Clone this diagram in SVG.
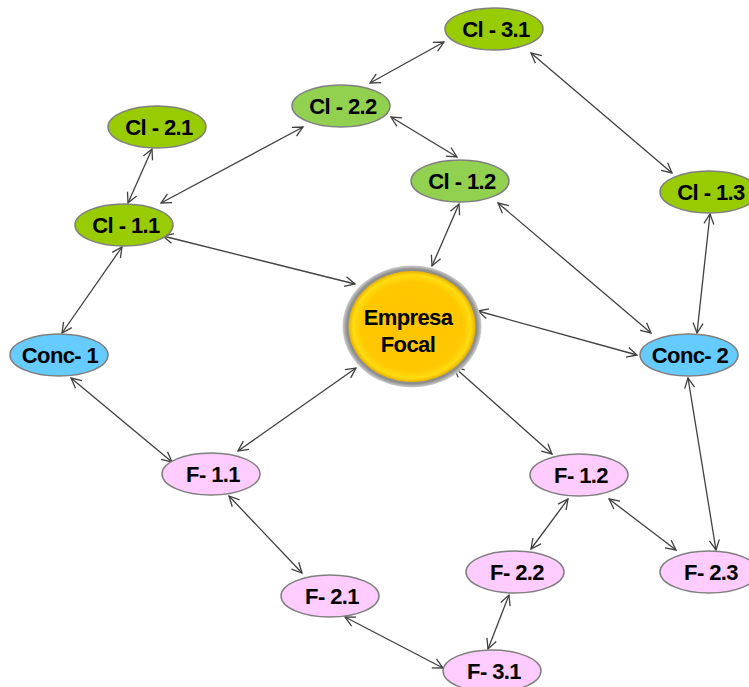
<svg xmlns="http://www.w3.org/2000/svg" width="749" height="687" viewBox="0 0 749 687">
  <defs>
    <marker id="arr" viewBox="0 0 12 12" refX="11" refY="6" markerWidth="12" markerHeight="12" markerUnits="userSpaceOnUse" orient="auto-start-reverse">
      <path d="M1,1 L11,6 L1,11" fill="none" stroke="#404040" stroke-width="1.3"/>
    </marker>
    <radialGradient id="focalFill" cx="50%" cy="50%" r="50%">
      <stop offset="0" stop-color="#ffc400"/>
      <stop offset="0.8" stop-color="#ffc800"/>
      <stop offset="0.93" stop-color="#ffdc10"/>
      <stop offset="1" stop-color="#e8b000"/>
    </radialGradient>
    <radialGradient id="focalRing" cx="50%" cy="50%" r="50%">
      <stop offset="0.86" stop-color="#8a8a8a"/>
      <stop offset="0.94" stop-color="#8f8f8f"/>
      <stop offset="1" stop-color="#cfcfcf"/>
    </radialGradient>
  </defs>
  <style>
    .edge { stroke: #404040; stroke-width: 1.3; fill: none; marker-start: url(#arr); marker-end: url(#arr); }
    .node ellipse { stroke: #7f7f7f; stroke-width: 1.5; }
    .cl { fill: #99cc00; }
    .cl2 { fill: #92d050; }
    .conc { fill: #66ccff; }
    .f { fill: #ffccff; }
    text { font-family: "Liberation Sans", Arial, sans-serif; font-weight: bold; font-size: 22px; letter-spacing: -0.6px; text-anchor: middle; fill: #000; }
  </style>
  <rect width="749" height="687" fill="#fff"/>

  <g id="connectors">
    <line class="edge" x1="444" y1="42" x2="370" y2="83"/>
    <line class="edge" x1="531" y1="53" x2="672" y2="173"/>
    <line class="edge" x1="391" y1="117" x2="457" y2="157"/>
    <line class="edge" x1="303" y1="127" x2="161" y2="203"/>
    <line class="edge" x1="152" y1="149" x2="128" y2="203"/>
    <line class="edge" x1="163" y1="236" x2="355" y2="284"/>
    <line class="edge" x1="122" y1="247" x2="62" y2="333"/>
    <line class="edge" x1="459" y1="204" x2="432" y2="266"/>
    <line class="edge" x1="498" y1="203" x2="651" y2="333"/>
    <line class="edge" x1="710" y1="214" x2="697" y2="333"/>
    <line class="edge" x1="478" y1="311" x2="637" y2="355"/>
    <line class="edge" x1="71" y1="378" x2="172" y2="462"/>
    <line class="edge" x1="356" y1="368" x2="238" y2="451"/>
    <line class="edge" x1="454" y1="367" x2="552" y2="454"/>
    <line class="edge" x1="688" y1="378" x2="716" y2="550"/>
    <line class="edge" x1="568" y1="499" x2="531" y2="549"/>
    <line class="edge" x1="609" y1="499" x2="676" y2="550"/>
    <line class="edge" x1="229" y1="496" x2="302" y2="573"/>
    <line class="edge" x1="509" y1="595" x2="488" y2="649"/>
    <line class="edge" x1="345" y1="617" x2="443" y2="668"/>
  </g>

  <g id="focal">
    <ellipse cx="412" cy="326.5" rx="69.5" ry="61" fill="url(#focalRing)"/>
    <ellipse cx="412" cy="326.5" rx="63.5" ry="55.5" fill="url(#focalFill)"/>
    <text x="408" y="325" font-size="23" letter-spacing="0">Empresa</text>
    <text x="408" y="352" font-size="23" letter-spacing="0">Focal</text>
  </g>

  <g id="cl-3-1" class="node"><ellipse class="cl" cx="494" cy="29" rx="49" ry="21"/><text x="496" y="37">Cl - 3.1</text></g>
  <g id="cl-2-2" class="node"><ellipse class="cl2" cx="341" cy="106" rx="49" ry="21"/><text x="343" y="114">Cl - 2.2</text></g>
  <g id="cl-2-1" class="node"><ellipse class="cl" cx="157" cy="127" rx="49" ry="21"/><text x="159" y="135">Cl - 2.1</text></g>
  <g id="cl-1-2" class="node"><ellipse class="cl2" cx="460" cy="181" rx="49" ry="21"/><text x="462" y="189">Cl - 1.2</text></g>
  <g id="cl-1-3" class="node"><ellipse class="cl" cx="709" cy="192" rx="49" ry="21"/><text x="711" y="200">Cl - 1.3</text></g>
  <g id="cl-1-1" class="node"><ellipse class="cl" cx="124" cy="225" rx="49" ry="21"/><text x="126" y="233">Cl - 1.1</text></g>
  <g id="conc-1" class="node"><ellipse class="conc" cx="59" cy="355" rx="49" ry="21"/><text x="60" y="363">Conc- 1</text></g>
  <g id="conc-2" class="node"><ellipse class="conc" cx="689" cy="355" rx="49" ry="21"/><text x="690" y="363">Conc- 2</text></g>
  <g id="f-1-1" class="node"><ellipse class="f" cx="211" cy="474" rx="49" ry="21"/><text x="213" y="482">F- 1.1</text></g>
  <g id="f-1-2" class="node"><ellipse class="f" cx="579" cy="475" rx="49" ry="21"/><text x="581" y="483">F- 1.2</text></g>
  <g id="f-2-2" class="node"><ellipse class="f" cx="515" cy="572" rx="49" ry="21"/><text x="517" y="580">F- 2.2</text></g>
  <g id="f-2-3" class="node"><ellipse class="f" cx="709" cy="572" rx="49" ry="21"/><text x="711" y="580">F- 2.3</text></g>
  <g id="f-2-1" class="node"><ellipse class="f" cx="330" cy="596" rx="49" ry="21"/><text x="332" y="604">F- 2.1</text></g>
  <g id="f-3-1" class="node"><ellipse class="f" cx="492" cy="671" rx="49" ry="21"/><text x="494" y="679">F- 3.1</text></g>
</svg>
